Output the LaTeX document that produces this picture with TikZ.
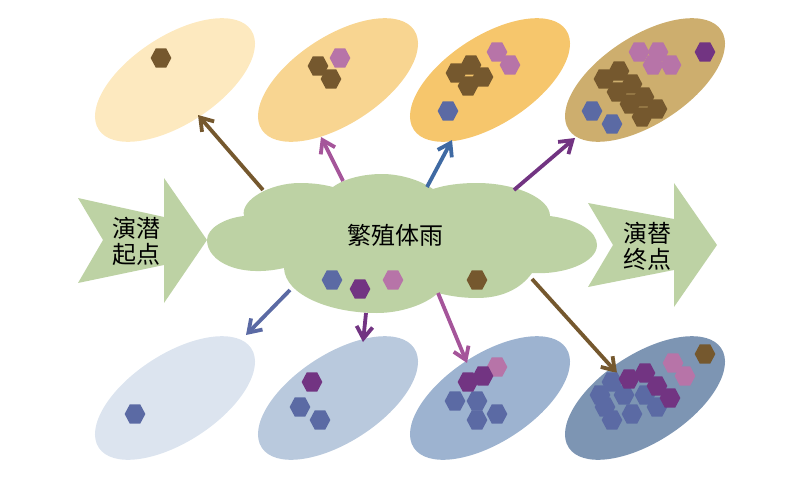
\documentclass[tikz,border=0pt]{standalone}
\usepackage{fontspec}
\usepackage{tikz}
\usetikzlibrary{shapes.geometric,arrows.meta}
\newfontfamily\cjk{Noto Sans CJK SC}

\definecolor{brownhex}{HTML}{75582E}
\definecolor{pinkhex}{HTML}{B774A8}
\definecolor{bluehex}{HTML}{5B6AA4}
\definecolor{purplehex}{HTML}{723482}
\definecolor{leaf}{HTML}{BDD2A4}
\definecolor{magentaflow}{HTML}{A5559A}
\definecolor{blueflow}{HTML}{3F6AA3}
\definecolor{upA}{HTML}{FDE9BF}
\definecolor{upB}{HTML}{F8D591}
\definecolor{upC}{HTML}{F6C66C}
\definecolor{upD}{HTML}{CDAE6E}
\definecolor{lowA}{HTML}{DCE4EF}
\definecolor{lowB}{HTML}{B9C9DD}
\definecolor{lowC}{HTML}{9DB3D0}
\definecolor{lowD}{HTML}{7D95B3}

\tikzset{
  patch/.style={ellipse,inner sep=0,minimum width=182,minimum height=88,rotate=33,fill=#1},
  hexa/.style={regular polygon,regular polygon sides=6,inner sep=0,minimum size=22.5,xscale=0.92,transform shape,fill=#1},
  flow/.style={line width=3.8,-{Straight Barb[length=12,width=16]},draw=#1},
  caption/.style={font=\cjk\fontsize{24}{26}\selectfont,align=center,text=black}
}

\begin{document}
\begin{tikzpicture}[x=1pt,y=-1pt]
\useasboundingbox (0,0) rectangle (800,479);

% cloud
\fill[leaf] (244,216) .. controls (240,200) and (270,183) .. (300,183)
  .. controls (315,183) and (325,185) .. (333,187)
  .. controls (345,178) and (365,174) .. (382,174)
  .. controls (400,174) and (420,180) .. (433,189)
  .. controls (445,185) and (460,183) .. (477,183)
  .. controls (515,183) and (550,198) .. (550,216)
  .. controls (580,220) and (597,232) .. (597,245)
  .. controls (597,262) and (565,275) .. (532,273)
  .. controls (520,290) and (500,298) .. (477,298)
  .. controls (462,298) and (450,296) .. (438,293)
  .. controls (425,305) and (400,313) .. (377,313)
  .. controls (330,313) and (285,295) .. (284,268)
  .. controls (240,278) and (207,262) .. (207,240)
  .. controls (207,228) and (225,218) .. (244,216) -- cycle;
\node[caption] (rain) at (395,235) {繁殖体雨};

% left and right block arrows
\fill[leaf] (78,198) -- (164,217) -- (164,178) -- (207,240) -- (164,303) -- (164,265) -- (78,283) -- (103,240) -- cycle;
\fill[leaf] (588,203) -- (674,219) -- (674,183) -- (717,245) -- (674,307) -- (674,270) -- (588,287) -- (613,245) -- cycle;
\node[caption] (begin) at (136,241) {演潜\\起点};
\node[caption] (finish) at (647,246) {演替\\终点};

% upper patches
\node[patch=upA] (up1) at (175,80) {};
\node[patch=upB] (up2) at (338,80) {};
\node[patch=upC] (up3) at (490,80) {};
\node[patch=upD] (up4) at (645,80) {};

% lower patches
\node[patch=lowA] (low1) at (175,398) {};
\node[patch=lowB] (low2) at (338,398) {};
\node[patch=lowC] (low3) at (490,398) {};
\node[patch=lowD] (low4) at (645,398) {};

% arrow ends
\coordinate (a1) at (263,190); \coordinate (b1) at (198,115);
\coordinate (a2) at (343,181); \coordinate (b2) at (321,137);
\coordinate (a3) at (427,187); \coordinate (b3) at (452,140);
\coordinate (a4) at (514,190); \coordinate (b4) at (575,138);
\coordinate (a5) at (290,290); \coordinate (b5) at (246,335);
\coordinate (a6) at (366,313); \coordinate (b6) at (363,342);
\coordinate (a7) at (438,293); \coordinate (b7) at (467,363);
\coordinate (a8) at (532,279); \coordinate (b8) at (617,373);

\draw[flow=brownhex] (a1) -- (b1);
\draw[flow=magentaflow] (a2) -- (b2);
\draw[flow=blueflow] (a3) -- (b3);
\draw[flow=purplehex] (a4) -- (b4);
\draw[flow=bluehex] (a5) -- (b5);
\draw[flow=purplehex] (a6) -- (b6);
\draw[flow=magentaflow] (a7) -- (b7);
\draw[flow=brownhex] (a8) -- (b8);

% hexagons
\foreach \x/\y [count=\i] in {161/58,318/66,331/79,471/65,456/73,483/77,468/86,619/71,604/79,632/84,617/92,644/97,630/104,657/109,642/117,705/354,477/280}
  \node[hexa=brownhex] (br\i) at (\x,\y) {};
\foreach \x/\y [count=\i] in {340/58,497/52,510/65,639/52,658/52,653/65,671/65,497/367,673/363,685/376,393/280}
  \node[hexa=pinkhex] (pk\i) at (\x,\y) {};
\foreach \x/\y [count=\i] in {448/111,592/111,612/124,135/414,300/407,320/420,455/401,477/401,477/420,497/414,612/382,600/395,624/395,645/395,657/407,605/407,632/414,612/420,332/280}
  \node[hexa=bluehex] (bl\i) at (\x,\y) {};
\foreach \x/\y [count=\i] in {705/52,312/382,483/376,468/382,629/379,645/373,657/386,670/398,360/289}
  \node[hexa=purplehex] (pu\i) at (\x,\y) {};

\end{tikzpicture}
\end{document}
